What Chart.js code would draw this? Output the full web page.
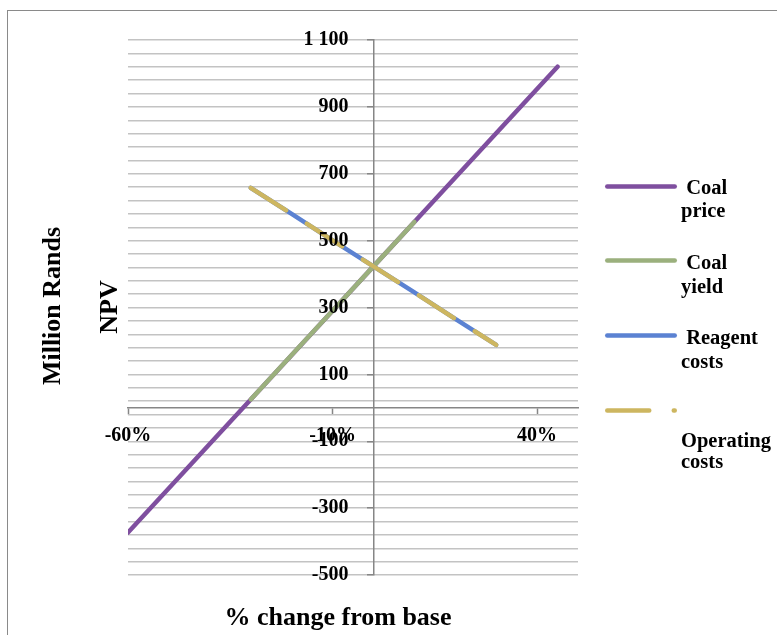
<!DOCTYPE html>
<html lang="en">
<head>
<meta charset="UTF-8">
<title>NPV sensitivity</title>
<script src="https://cdn.jsdelivr.net/npm/chart.js"></script>
<style>
    body { margin: 0; background: #fff; }
    #wrap {
        position: relative; width: 777px; height: 635px; overflow: hidden;
        font-family: "Liberation Serif", "Times New Roman", serif; font-weight: bold; color: #000;
    }
    #frame {
        position: absolute; left: 7px; top: 10px; width: 800px; height: 700px;
        border-left: 1.5px solid #8a8a8a; border-top: 1.5px solid #8a8a8a;
    }
    canvas { position: absolute; left: 0; top: 0; }
    .t { position: absolute; white-space: nowrap; }
    .title { font-size: 26px; line-height: 26px; transform: translate(-50%, -50%); }
    .vert { transform: translate(-50%, -50%) rotate(-90deg); }
    .leg { font-size: 20.5px; line-height: 20px; }
</style>
</head>
<body>
<div id="wrap">
    <div id="frame"></div>
    <canvas id="graphique" width="777" height="635"></canvas>
    <div class="t title vert" style="left:52px; top:306px;">Million Rands</div>
    <div class="t title vert" style="left:109px; top:307px;">NPV</div>
    <div class="t title" style="left:338px; top:617px;">% change from base</div>
    <div id="legende"></div>
</div>

<script>
    // Données
    const seriesNames = ['Coal price', 'Coal yield', 'Reagent costs', 'Operating costs'];
    const coalPriceX = [-60, -45, -30, -15, 0, 15, 30, 45];
    const coalPriceNPV = [-373, -174, 25, 224, 423, 622, 821, 1020];
    const coalYieldX = [-30, -20, -10, 0, 10];
    const coalYieldNPV = [25, 158, 290, 423, 556];
    const costX = [-30, -20, -10, 0, 10, 20, 30];
    const reagentNPV = [658, 580, 501, 423, 345, 266, 188];
    const operatingNPV = [658, 580, 501, 423, 345, 266, 188];

    // Axes
    const xTicks = [-60, -10, 40];
    const yLabels = [1100, 900, 700, 500, 300, 100, -100, -300, -500];
    const yMin = -500, yMax = 1100, yGridStep = 40;

    const colors = ['#7f4f9f', '#9bb07d', '#5b82d2', '#cdb660'];
    const lineW = 4.5;
    const dash = [42, 24.5];

    function pts(xs, ys) {
        return xs.map((x, i) => ({ x: x, y: ys[i] }));
    }

    // séparateur de milliers = espace ; les espaces finales écartent le texte de l'axe central
    function fmtNPV(v) {
        const s = Math.abs(v).toString().replace(/\B(?=(\d{3})+(?!\d))/g, ' ');
        return (v < 0 ? '-' : '') + s + '     ';
    }

    const font = { family: '"Liberation Serif", "Times New Roman", serif', size: 20, weight: 'bold' };

    // échantillons de la légende, dessinés avec le style des séries
    const legendRows = [186.5, 260.5, 335.5, 410.5];
    const legendSamples = {
        id: 'legendSamples',
        afterDraw(chart) {
            const ctx = chart.ctx;
            chart.data.datasets.forEach((ds, i) => {
                const y = legendRows[i];
                ctx.save();
                ctx.strokeStyle = ds.borderColor;
                ctx.lineWidth = ds.borderWidth;
                ctx.lineCap = 'round';
                ctx.setLineDash(ds.borderDash || []);
                ctx.beginPath();
                ctx.moveTo(607.25, y);
                ctx.lineTo(674.75, y);
                ctx.stroke();
                ctx.restore();
            });
        }
    };

    const myChart = new Chart(document.getElementById('graphique'), {
        type: 'line',
        data: {
            datasets: [
                { label: seriesNames[0], data: pts(coalPriceX, coalPriceNPV), borderColor: colors[0], order: 4 },
                { label: seriesNames[1], data: pts(coalYieldX, coalYieldNPV), borderColor: colors[1], order: 3 },
                { label: seriesNames[2], data: pts(costX, reagentNPV), borderColor: colors[2], order: 2 },
                { label: seriesNames[3], data: pts(costX, operatingNPV), borderColor: colors[3], order: 1, borderDash: dash }
            ].map(ds => Object.assign({ borderWidth: lineW, pointRadius: 0, tension: 0, borderCapStyle: 'round', borderJoinStyle: 'round' }, ds))
        },
        options: {
            responsive: false,
            animation: false,
            layout: { padding: { left: 128, top: 40, right: 199, bottom: 60 } },
            plugins: { legend: { display: false }, tooltip: { enabled: false } },
            scales: {
                x: {
                    type: 'linear', min: -60, max: 50, position: { y: 0 },
                    afterBuildTicks: s => { s.ticks = xTicks.map(v => ({ value: v })); },
                    grid: { drawOnChartArea: false, tickLength: 6, tickColor: '#868686', tickWidth: 1.5 },
                    border: { color: '#868686', width: 1.5 },
                    ticks: { z: 1, callback: v => v + '%', font: font, color: '#000', padding: 10, maxRotation: 0, autoSkip: false }
                },
                y: {
                    type: 'linear', min: yMin, max: yMax, position: { x: 0 },
                    afterBuildTicks: s => {
                        const t = [];
                        for (let v = yMin; v <= yMax; v += yGridStep) t.push({ value: v });
                        s.ticks = t;
                    },
                    grid: {
                        color: '#c3c3c3', lineWidth: 1.5, tickLength: 6, tickWidth: 1.5,
                        tickColor: c => yLabels.includes(c.tick.value) ? '#868686' : 'rgba(0,0,0,0)'
                    },
                    border: { color: '#868686', width: 1.5 },
                    ticks: {
                        z: 1, autoSkip: false, font: font, color: '#000',
                        callback: v => yLabels.includes(v) ? fmtNPV(v) : ''
                    }
                }
            }
        },
        plugins: [legendSamples]
    });

    // textes de la légende
    const legendText = [
        [[' Coal', 681, 186.5], ['price', 681, 210]],
        [[' Coal', 681, 261.5], ['yield', 681, 286]],
        [[' Reagent', 681, 337], ['costs', 681, 360.5]],
        [['Operating', 681, 439.5], ['costs', 681, 461]]
    ];
    const leg = document.getElementById('legende');
    legendText.forEach(lines => {
        lines.forEach(l => {
            const d = document.createElement('div');
            d.className = 't leg';
            d.style.left = l[1] + 'px';
            d.style.top = (l[2] - 10) + 'px';
            d.style.whiteSpace = 'pre';
            d.textContent = l[0];
            leg.appendChild(d);
        });
    });
</script>
</body>
</html>
